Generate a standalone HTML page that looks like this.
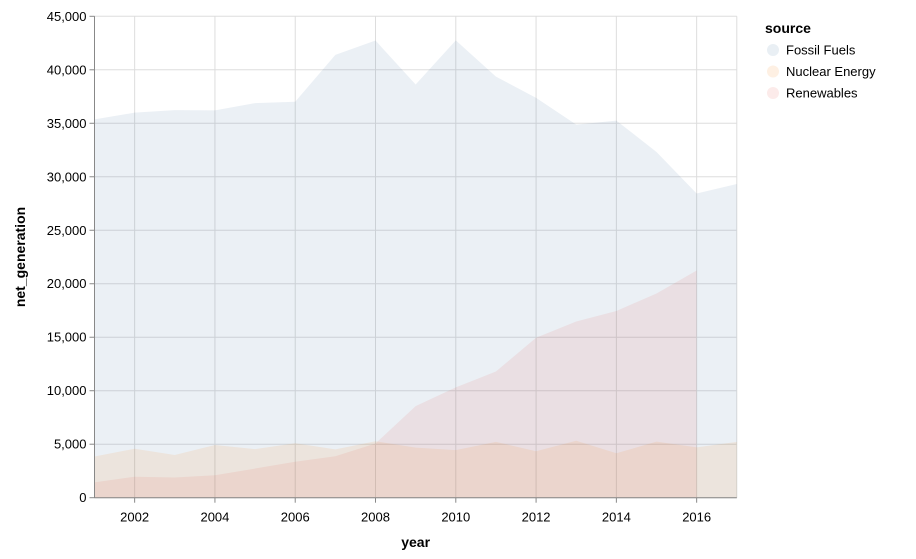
<!DOCTYPE html>
<html><head><meta charset="utf-8"><style>
body{margin:0;background:#fff;font-family:"Liberation Sans",Arial,sans-serif}
</style></head><body>
<svg id="chart" width="916" height="554" xmlns="http://www.w3.org/2000/svg" font-family="Liberation Sans, Arial, sans-serif"></svg>
<script>
const years=[2001,2002,2003,2004,2005,2006,2007,2008,2009,2010,2011,2012,2013,2014,2015,2016,2017];
const fossil=[35361,35991,36234,36205,36883,37014,41389,42734,38620,42750,39361,37379,34873,35250,32319,28437,29329];
const nuclear=[3853,4574,3988,4929,4538,5095,4519,5282,4679,4451,5215,4347,5321,4152,5243,4703,5214];
const renew=[1437,1963,1885,2102,2724,3364,3870,5070,8560,10308,11795,14949,16476,17452,19091,21241];
const yTicks=[0,5000,10000,15000,20000,25000,30000,35000,40000,45000];
const xTicks=[2002,2004,2006,2008,2010,2012,2014,2016];
const seriesNames=["Fossil Fuels","Nuclear Energy","Renewables"];
const colors=["#4c78a8","#f58518","#e45756"];
const X0=94.5,X1=736.8,Y0=497.7,Y1=16.3;
const x=v=>X0+(v-2001)/(2017-2001)*(X1-X0);
const y=v=>Y0+(v/45000)*(Y1-Y0);
const svg=document.getElementById('chart');
const NS='http://www.w3.org/2000/svg';
function mk(t,a,p){const e=document.createElementNS(NS,t);for(const k in a)e.setAttribute(k,a[k]);(p||svg).appendChild(e);return e;}
yTicks.forEach(v=>{
 const l=mk('line',{x1:X0,x2:X1,y1:y(v),y2:y(v),stroke:'#ddd'});
 
 
 const tk=mk('line',{x1:X0-5,x2:X0,y1:y(v),y2:y(v),stroke:'#888'});
 
 
 const t=mk('text',{x:X0-8,y:y(v)+4.5,'text-anchor':'end','font-size':13,fill:'#000'});
 t.textContent=v.toLocaleString('en-US');
 
 
});
xTicks.forEach(v=>{
 const l=mk('line',{x1:x(v),x2:x(v),y1:Y1,y2:Y0,stroke:'#ddd'});
 
 
 const tk=mk('line',{x1:x(v),x2:x(v),y1:Y0,y2:Y0+5,stroke:'#888'});
 
 
 const t=mk('text',{x:x(v),y:Y0+24,'text-anchor':'middle','font-size':13,fill:'#000'});
 t.textContent=v;
 
 
});
const rl=mk('line',{x1:X1,x2:X1,y1:Y1,y2:Y0,stroke:'#ddd'});


[fossil,nuclear,renew].forEach((s,i)=>{
 let d='M'+x(years[0])+','+y(0);
 s.forEach((v,j)=>{d+='L'+x(years[j])+','+y(v);});
 d+='L'+x(years[s.length-1])+','+y(0)+'Z';
 const p=mk('path',{d:d,fill:colors[i],'fill-opacity':0.11});
 
 
});
const ya=mk('line',{x1:X0,x2:X0,y1:Y1,y2:Y0,stroke:'#888'});


const xa=mk('line',{x1:X0,x2:X1,y1:Y0,y2:Y0,stroke:'#888'});


const xt=mk('text',{x:(X0+X1)/2,y:547,'text-anchor':'middle','font-size':14,'font-weight':'bold'});
xt.textContent='year';


const yt=mk('text',{x:0,y:0,transform:'translate(25,'+((Y0+Y1)/2)+') rotate(-90)','text-anchor':'middle','font-size':14,'font-weight':'bold'});
yt.textContent='net_generation';


const lt=mk('text',{x:765,y:33,'font-size':14,'font-weight':'bold'});
lt.textContent='source';


seriesNames.forEach((n,i)=>{
 const cy=50+i*21.5;
 const c=mk('circle',{cx:773,cy:cy,r:6,fill:colors[i],'fill-opacity':0.12});
 
 
 const t=mk('text',{x:786,y:cy+4.5,'font-size':13});
 t.textContent=n;
 
 
});
</script>
</body></html>
